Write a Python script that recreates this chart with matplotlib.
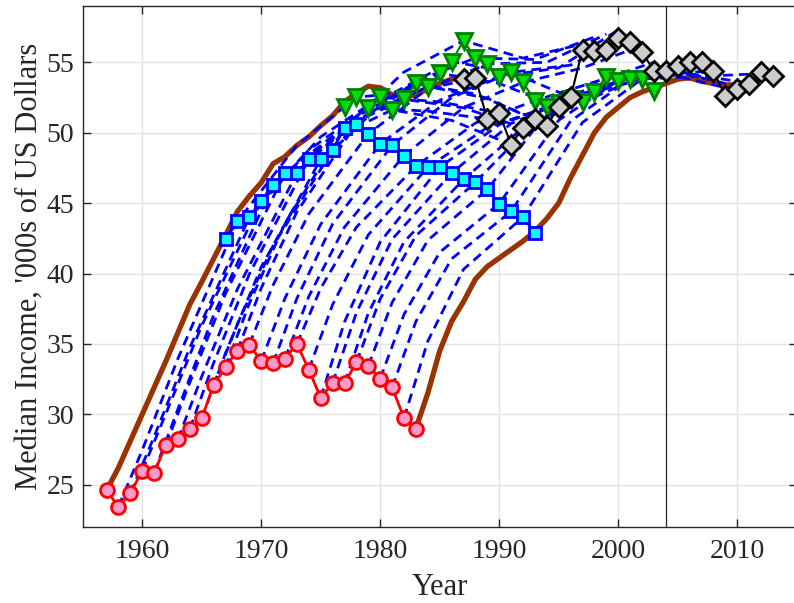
import numpy as np
import matplotlib
matplotlib.use("Agg")
import matplotlib.pyplot as plt

plt.rcParams['font.family'] = ['Liberation Serif', 'DejaVu Serif']

# marker series: value of each cohort (start years 1957..1983) at age 0, 10, 20, 30
start_years = np.arange(1957, 1984)
red_vals = [24.62, 23.44, 24.39, 25.99, 25.85, 27.84, 28.22, 28.97, 29.71, 32.09,
            33.33, 34.53, 34.96, 33.77, 33.63, 33.96, 35.0, 33.18, 31.17, 32.21,
            32.21, 33.70, 33.44, 32.54, 31.91, 29.73, 28.97]
cyan_vals = [42.43, 43.70, 43.99, 45.14, 46.30, 47.13, 47.13, 48.12, 48.12, 48.76,
             50.35, 50.65, 49.92, 49.21, 49.11, 48.38, 47.62, 47.55, 47.55, 47.13,
             46.68, 46.49, 45.97, 44.96, 44.41, 44.01, 42.90]
green_vals = [51.81, 52.52, 51.77, 52.52, 51.62, 52.38, 53.51, 53.28, 54.22, 55.05,
              56.54, 55.31, 54.89, 53.99, 54.29, 53.58, 52.28, 51.81, 52.1, 52.4,
              52.17, 52.88, 53.99, 53.70, 53.82, 53.82, 52.99]
gray_vals = [53.82, 53.89, 50.98, 51.41, 49.16, 50.35, 50.98, 50.51, 51.81, 52.52,
             55.88, 55.83, 55.88, 56.73, 56.42, 55.71, 54.41, 54.36, 54.77, 55.0,
             55.0, 54.36, 52.64, 53.11, 53.47, 54.29, 54.06]

# first (1957) and last (1983) cohort paths, yearly over 30 years
first_cohort = [24.6, 26.2, 28.1, 30.0, 31.9, 33.8, 35.8, 37.8, 39.4, 41.05,
                42.7, 44.4, 45.5, 46.45, 47.8, 48.3, 49.1, 49.7, 50.5, 51.2,
                52.2, 52.8, 53.3, 53.2, 52.7, 52.5, 52.7, 53.1, 53.5, 53.8, 53.95]
last_cohort = [29.0, 31.5, 34.5, 36.6, 38.0, 39.6, 40.5, 41.1, 41.7, 42.3,
               43.0, 43.9, 45.0, 46.8, 48.4, 50.0, 51.1, 51.8, 52.5, 52.9,
               53.2, 53.5, 53.8, 53.9, 53.65, 53.5, 53.4, 53.4, 53.6, 53.8, 54.1]

# in-between cohorts 1958..1982, read at these ages
ages = [0, 2, 5, 10, 15, 20, 25, 30]
cohort_nodes = [
    [23.44, 27.45, 33.96, 43.70, 49.11, 52.52, 52.93, 53.89],
    [24.39, 28.41, 34.74, 43.99, 48.78, 51.77, 51.53, 50.98],
    [25.99, 30.07, 36.29, 45.14, 49.71, 52.52, 52.19, 51.41],
    [25.85, 30.37, 37.04, 46.30, 49.61, 51.62, 50.88, 49.16],
    [27.84, 32.26, 38.57, 47.13, 50.41, 52.38, 51.77, 50.35],
    [28.22, 32.68, 38.90, 47.13, 51.14, 53.51, 52.75, 50.98],
    [28.97, 33.64, 39.96, 48.12, 51.38, 53.28, 52.45, 50.51],
    [29.71, 34.35, 40.46, 48.12, 51.99, 54.22, 53.50, 51.81],
    [32.09, 36.41, 41.98, 48.76, 52.77, 55.05, 54.29, 52.52],
    [33.33, 37.87, 43.58, 50.35, 54.31, 56.54, 55.3, 56.3],
    [34.53, 38.96, 44.38, 50.65, 53.65, 55.31, 55.2, 56.8],
    [34.96, 39.18, 44.24, 49.92, 53.13, 54.89, 55.0, 57.0],
    [33.77, 38.25, 43.50, 49.21, 52.31, 53.99, 54.6, 57.3],
    [33.63, 38.24, 43.52, 49.11, 52.49, 54.29, 54.8, 57.0],
    [33.96, 38.37, 43.30, 48.38, 51.79, 53.58, 54.6, 56.2],
    [35.0, 38.95, 43.29, 47.62, 50.69, 52.28, 53.6, 55.0],
    [33.18, 37.79, 42.75, 47.55, 50.37, 51.81, 53.4, 54.6],
    [31.17, 36.56, 42.24, 47.55, 50.57, 52.1, 53.6, 54.9],
    [32.21, 37.22, 42.43, 47.13, 50.65, 52.4, 54.0, 55.0],
    [32.21, 37.19, 42.25, 46.68, 50.36, 52.17, 54.0, 55.0],
    [33.70, 38.20, 42.69, 46.49, 50.79, 52.88, 54.1, 54.4],
    [33.44, 37.94, 42.36, 45.97, 51.39, 53.99, 54.2, 53.2],
    [32.54, 37.10, 41.51, 44.96, 50.89, 53.70, 54.3, 53.3],
    [31.91, 36.60, 41.05, 44.41, 50.83, 53.82, 54.2, 53.5],
    [29.73, 35.20, 40.30, 44.01, 50.73, 53.82, 54.0, 54.2],
]

fig = plt.figure(figsize=(7.94, 6.03), dpi=100)
ax = fig.add_axes([82.7 / 794, 76 / 603, 714 / 794, 521 / 603])

brown = '#993300'
ax.axvline(2004, color='#262626', lw=0.9, zorder=1.5)

ax.plot(np.arange(1957, 1988), first_cohort, color=brown, lw=3.8, zorder=2,
        solid_capstyle='round')
ax.plot(np.arange(1983, 2014), last_cohort, color=brown, lw=3.8, zorder=2,
        solid_capstyle='round')

for i, nodes in enumerate(cohort_nodes, start=1):
    x = start_years[i] + np.array(ages)
    ax.plot(x, nodes, '--', color='blue', lw=2, dashes=(3.5, 2.2), zorder=3)

ax.plot(start_years, red_vals, '-o', color='red', lw=2, ms=10,
        mfc='#FF99CC', mec='red', mew=2, zorder=4)
ax.plot(start_years + 10, cyan_vals, '-s', color='blue', lw=2, ms=8,
        mfc='cyan', mec='blue', mew=2, zorder=5)
ax.plot(start_years + 20, green_vals, '-v', color='#008000', lw=1.5, ms=11,
        mfc='#00E000', mec='#008000', mew=2, zorder=6)
ax.plot(start_years + 30, gray_vals, '-D', color='black', lw=1.5, ms=10,
        mfc='#CCCCCC', mec='black', mew=2, zorder=7)

ax.set_xlim(1955, 2015)
ax.set_ylim(22, 59)
ax.set_xticks(range(1960, 2011, 10))
ax.set_yticks(range(25, 56, 5))
ax.grid(True, color='#E3E3E3', lw=1)
ax.set_axisbelow(True)
ax.tick_params(direction='in', top=True, right=True, length=6, width=1,
               labelsize=20, colors='#262626')
ax.tick_params(axis='x', pad=9)
ax.tick_params(axis='y', pad=6)
for s in ax.spines.values():
    s.set_color('#262626')
    s.set_linewidth(1)

ax.set_xlabel('Year', fontsize=22, color='#262626', labelpad=6)
ax.set_ylabel("Median Income, '000s of US Dollars", fontsize=22,
              color='#262626', labelpad=2)

fig.savefig('out.png', dpi=100)
